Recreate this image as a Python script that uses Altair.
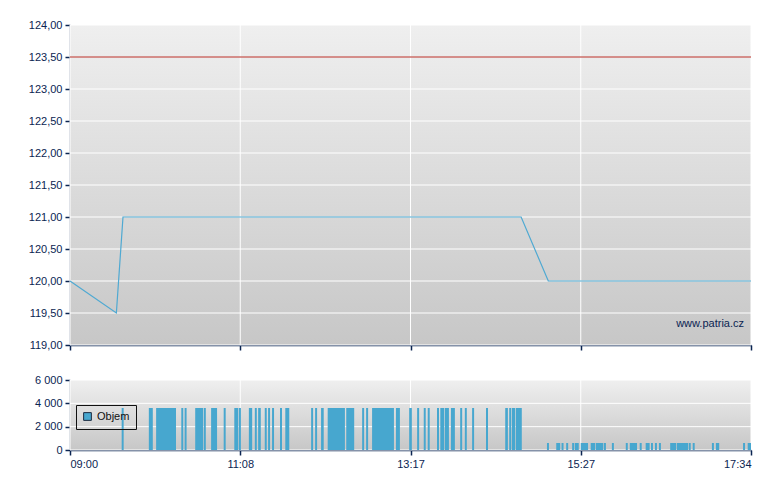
import altair as alt
import pandas as pd

# ---- data (minutes after 09:00) ----
price_t = [0, 35, 40, 340.5, 361, 514]
price_v = [120.00, 119.50, 121.00, 121.00, 120.00, 120.00]
ref_price = [123.50]

bar_start = [39, 59.5, 65, 84, 86.5, 94.5, 101, 106.5, 116, 124, 127.5, 135, 139.5, 142, 147, 149.5,
             152.5, 158.5, 162.5, 182, 185, 189.5, 194.5, 208.5, 220.5, 223.5, 228, 246, 256, 262,
             267, 270, 277, 279.5, 283, 287.5, 294.5, 298, 303.5, 314, 328.5, 331.5, 333.5, 336.5,
             360, 367, 371, 374.5, 379, 381, 385.5, 393, 397, 403, 409, 419.5, 422.5, 430, 434.5,
             438.5, 441.5, 444.5, 453, 458, 467, 470, 484.5, 487.5, 508, 511.5]
bar_end = [40.5, 62.5, 80, 85.5, 88, 100.5, 102.5, 111, 117.5, 127, 129, 137.5, 141, 144, 148.5, 151,
           154, 160, 165.5, 183.5, 186.5, 191.5, 207.5, 214.5, 222, 225, 244.5, 249, 258, 263.5,
           268.5, 271.5, 278.5, 282.5, 286, 290.5, 296, 299.5, 305, 315.5, 330.5, 333, 336, 341,
           361.5, 370, 372.5, 376, 380.5, 384, 391, 396.5, 402.5, 404.5, 410.5, 421, 428, 431.5, 437.5,
           440, 443, 446, 457.5, 466.5, 468.5, 471.5, 486, 490, 509.5, 514]
bar_vol = [3600] * 44 + [600] * 26

tick_vals = [0, 128.5, 257, 385.5, 514]
tick_labels = ["09:00", "11:08", "13:17", "15:27", "17:34"]
price_ticks = [119 + 0.5 * i for i in range(11)]
vol_ticks = [0, 2000, 4000, 6000]

price_df = pd.DataFrame({"t": price_t, "p": price_v})
ref_df = pd.DataFrame({"p": ref_price})
bar_df = pd.DataFrame({"s": bar_start, "e": bar_end, "v": bar_vol, "series": "Objem"})
xgrid_df = pd.DataFrame({"t": tick_vals, "s": tick_vals})
pgrid_df = pd.DataFrame({"p": price_ticks})
vgrid_df = pd.DataFrame({"v": vol_ticks})

W = 681
NAVY = "#0b2552"
FONT = "Liberation Sans"

lab = "''"
for v, l in zip(tick_vals[::-1], tick_labels[::-1]):
    lab = f"datum.value == {v} ? '{l}' : ({lab})"

xscale = alt.Scale(domain=[0, 514], nice=False, zero=False)

grad = alt.LinearGradient(
    gradient="linear",
    stops=[alt.GradientStop(color="#efefef", offset=0),
           alt.GradientStop(color="#c7c7c7", offset=1)],
    x1=0, x2=0, y1=0, y2=1)


def bg(h):
    return alt.Chart(alt.Data(values=[{}])).mark_rect(fill=grad).encode(
        x=alt.value(0), x2=alt.value(W), y=alt.value(0), y2=alt.value(h))


# ---- price panel ----
PH = 320
pscale = alt.Scale(domain=[119, 124], nice=False, zero=False)
px_axis = alt.Axis(values=tick_vals, labels=False, grid=False)
py_axis = alt.Axis(values=price_ticks, grid=False, labelOverlap=False,
                   labelExpr="replace(format(datum.value, '.2f'), '.', ',')")
x_price = alt.X("t:Q", scale=xscale, title=None, axis=px_axis)
y_price = alt.Y("p:Q", scale=pscale, title=None, axis=py_axis)

pgrid = alt.Chart(pgrid_df).mark_rule(color="#ffffff", strokeWidth=1).encode(y=y_price)
pxgrid = alt.Chart(xgrid_df).mark_rule(color="#ffffff", strokeWidth=1).encode(x=x_price)
price_line = alt.Chart(price_df).mark_line(color="#4fa9d2", strokeWidth=1.2).encode(x=x_price, y=y_price)
ref_line = alt.Chart(ref_df).mark_rule(color="#b3261e", strokeWidth=1).encode(y=y_price)
wm = alt.Chart(alt.Data(values=[{"txt": "www.patria.cz"}])).mark_text(
    align="right", baseline="middle", font=FONT, fontSize=11, color=NAVY).encode(
    x=alt.value(674), y=alt.value(299), text="txt:N")

price_chart = alt.layer(bg(PH), pgrid, pxgrid, price_line, ref_line, wm).properties(width=W, height=PH)

# ---- volume panel ----
VH = 70
vscale = alt.Scale(domain=[0, 6000], nice=False)
vx_axis = alt.Axis(values=tick_vals, labelExpr=lab, grid=False)
vy_axis = alt.Axis(values=vol_ticks, grid=False, labelOverlap=False,
                   labelExpr="replace(format(datum.value, ',d'), ',', ' ')")
x_vol = alt.X("s:Q", scale=xscale, title=None, axis=vx_axis)
y_vol = alt.Y("v:Q", scale=vscale, title=None, axis=vy_axis)

vgrid_rules = alt.Chart(vgrid_df).mark_rule(color="#ffffff", strokeWidth=1).encode(y=y_vol)
vxgrid = alt.Chart(xgrid_df).mark_rule(color="#ffffff", strokeWidth=1).encode(x=x_vol)
bars = alt.Chart(bar_df).mark_rect().encode(
    x=x_vol, x2="e:Q", y=y_vol, y2=alt.datum(0),
    color=alt.Color("series:N", scale=alt.Scale(range=["#47a7cf"]),
                    legend=alt.Legend(orient="none", legendX=6, legendY=380, title=None,
                                      strokeColor="#111111", padding=6, symbolType="square",
                                      symbolSize=60, symbolStrokeColor="#1a2a40",
                                      symbolStrokeWidth=1, labelFont=FONT, labelFontSize=11,
                                      labelColor="#111111")))
vol_chart = alt.layer(bg(VH), vgrid_rules, vxgrid, bars).properties(width=W, height=VH)

chart = alt.vconcat(price_chart, vol_chart, spacing=23).properties(
    padding={"left": 20, "top": 11, "right": 5, "bottom": 5}
).configure_axis(
    domainColor=NAVY, domainWidth=1.5, tickColor=NAVY, tickWidth=1.5, tickSize=5,
    labelColor=NAVY, labelFont=FONT, labelFontSize=11, labelPadding=3
).configure_view(strokeWidth=0)

chart.save("out.html", embed_options={"renderer": "svg", "actions": False})
